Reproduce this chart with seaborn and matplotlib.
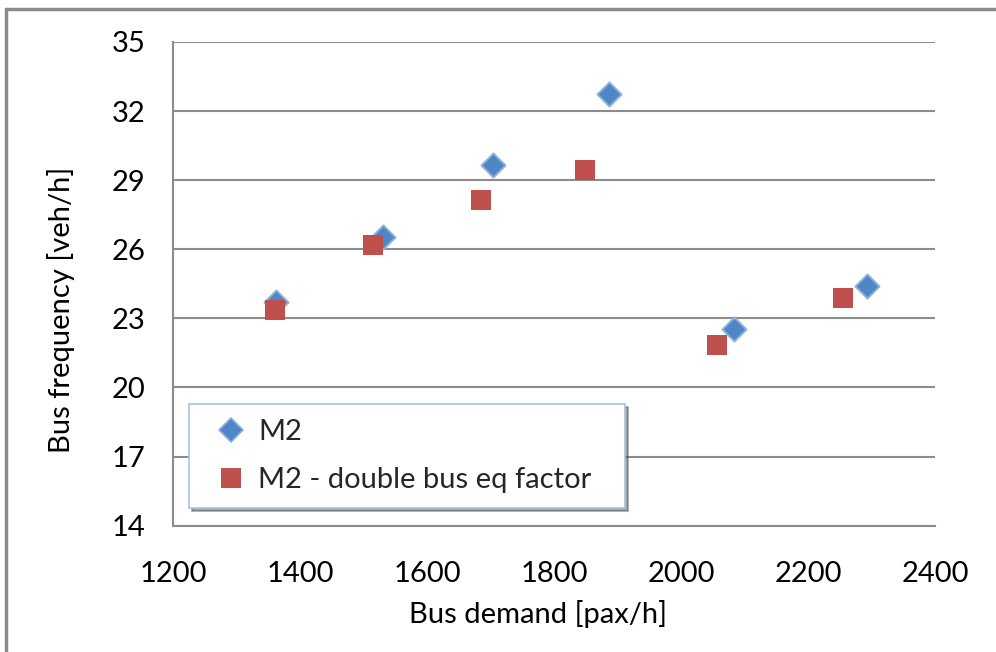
import matplotlib
matplotlib.use("Agg")
import matplotlib.pyplot as plt
from matplotlib.lines import Line2D
import seaborn as sns
import pandas as pd

# Bus demand [pax/h] and bus frequency [veh/h] for the two model variants
m2_demand = [1362, 1531, 1704, 1886, 2083, 2293]
m2_freq = [23.72, 26.55, 29.66, 32.75, 22.53, 24.39]

m2dbl_demand = [1360, 1514, 1685, 1848, 2056, 2254]
m2dbl_freq = [23.36, 26.17, 28.15, 29.43, 21.83, 23.90]

series_names = ["M2", "M2 - double bus eq factor"]
x_ticks = [1200, 1400, 1600, 1800, 2000, 2200, 2400]
y_ticks = [14, 17, 20, 23, 26, 29, 32, 35]

df = pd.DataFrame({
    "demand": m2_demand + m2dbl_demand,
    "freq": m2_freq + m2dbl_freq,
    "series": [series_names[0]] * len(m2_demand) + [series_names[1]] * len(m2dbl_demand),
})

sns.set_theme(style="white")
plt.rcParams["font.family"] = ["Lato", "DejaVu Sans"]

fig = plt.figure(figsize=(9.96, 6.52), dpi=100)
ax = fig.add_axes([0.174, 0.1937, 0.765, 0.742])

blue = "#4f86c6"
blue_edge = "#8db1dc"
red = "#c0504d"
grid_c = "#8c8c8c"
fs = 21

for y in y_ticks:
    ax.axhline(y, color=grid_c, lw=1.5, zorder=0)

sns.scatterplot(
    data=df[df.series == series_names[0]], x="demand", y="freq",
    marker="D", color=blue, s=150, linewidth=1.4, edgecolor=blue_edge,
    legend=False, ax=ax, zorder=3,
)
sns.scatterplot(
    data=df[df.series == series_names[1]], x="demand", y="freq",
    marker="s", color=red, s=205, linewidth=0,
    legend=False, ax=ax, zorder=4,
)

ax.set_xlim(1200, 2400)
ax.set_ylim(14, 35)
ax.set_xticks(x_ticks)
ax.set_yticks(y_ticks)
ax.tick_params(axis="both", labelsize=fs, labelcolor="black", color=grid_c,
               length=7.2, width=1.5, direction="out")
ax.tick_params(axis="x", pad=18)
ax.tick_params(axis="y", pad=13)
for side in ["top", "right"]:
    ax.spines[side].set_visible(False)
for side in ["left", "bottom"]:
    ax.spines[side].set_color(grid_c)
    ax.spines[side].set_linewidth(1.5)

ax.set_xlabel("Bus demand [pax/h]", fontsize=fs, color="black")
ax.set_ylabel("Bus frequency [veh/h]", fontsize=fs, color="black")
ax.xaxis.set_label_coords(0.4786, -0.182)
ax.xaxis.label.set_va("center")
ax.yaxis.set_label_coords(-0.147, 0.446)
ax.yaxis.label.set_va("center")
ax.yaxis.label.set_ha("center")

handles = [
    Line2D([], [], ls="none", marker="D", markersize=12, color=blue,
           markeredgecolor=blue_edge, markeredgewidth=1.2),
    Line2D([], [], ls="none", marker="s", markersize=14.4, color=red, markeredgewidth=0),
]
leg = ax.legend(handles, series_names, loc="upper left",
                bbox_to_anchor=(0.0206, 0.252 - 0.213, 0.572, 0.213),
                mode="expand", fontsize=fs, frameon=True,
                fancybox=False, shadow=True, borderpad=0.52, labelspacing=0.75,
                handletextpad=0.0, borderaxespad=0, handlelength=1.85)
leg.get_frame().set_edgecolor("#a9c0e4")
leg.get_frame().set_linewidth(1.2)
leg.get_frame().set_facecolor("white")
leg.set_zorder(5)

# outer chart frame (top and left edges)
fig.add_artist(Line2D([0.0065, 1.0], [1 - 8.5 / 652, 1 - 8.5 / 652],
                      transform=fig.transFigure, color="#8a8a8a", lw=2.5))
fig.add_artist(Line2D([0.0065, 0.0065], [0.0, 1 - 8.5 / 652],
                      transform=fig.transFigure, color="#8a8a8a", lw=2.5))

fig.savefig("out.png", dpi=100)
